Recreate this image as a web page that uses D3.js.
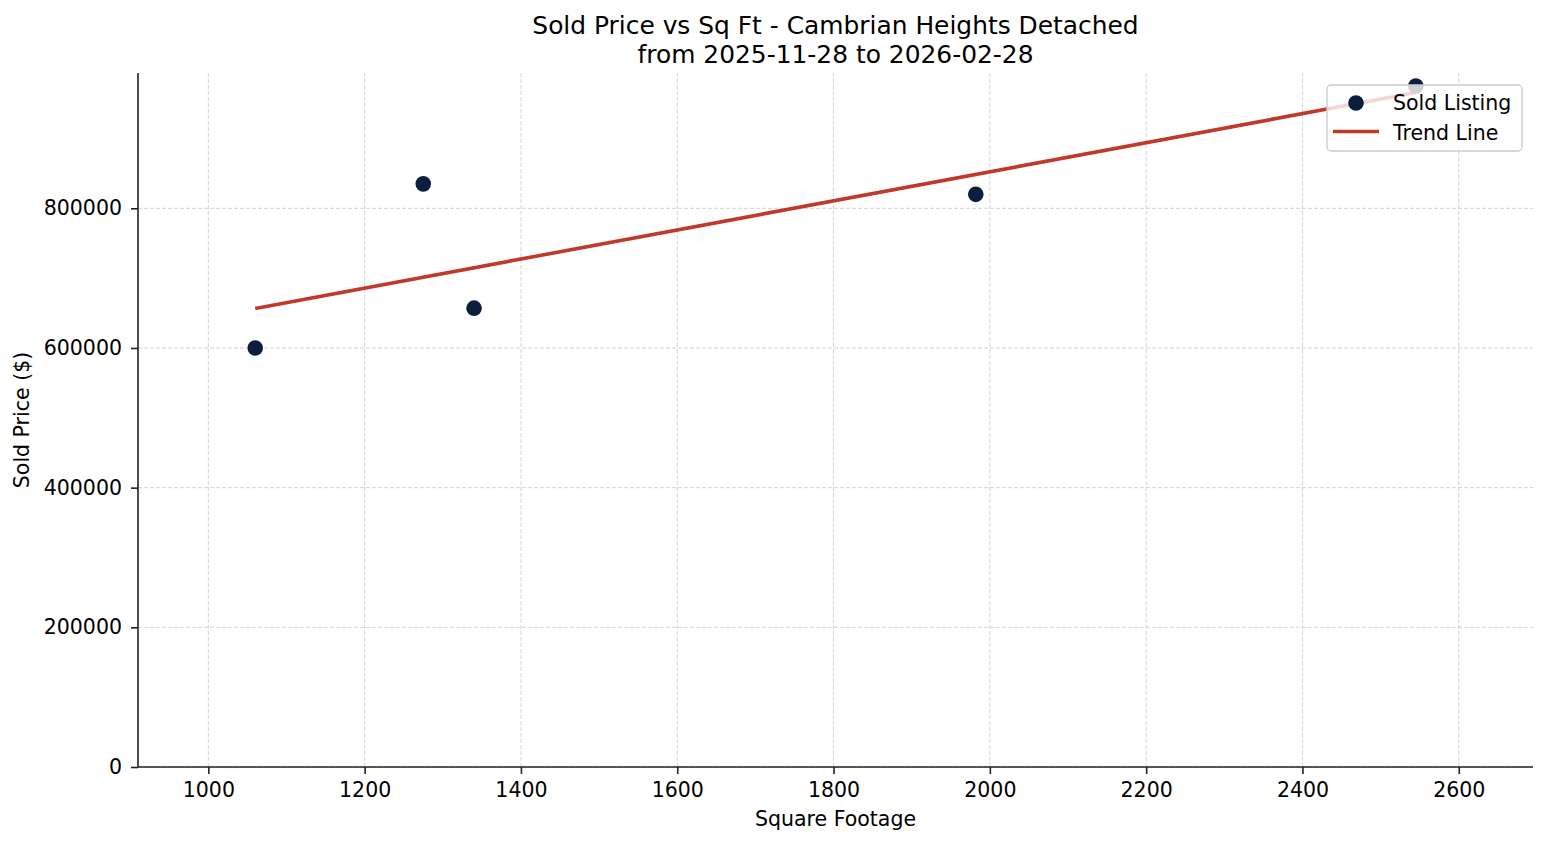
<!DOCTYPE html>
<html>
<head>
<meta charset="utf-8">
<script src="https://cdn.jsdelivr.net/npm/d3@7"></script>
<style>
  body { margin: 0; background: #fff; }
  text { font-family: "DejaVu Sans", sans-serif; fill: #000; }
</style>
</head>
<body>
<script>
// sold listings
var sqft = [1060, 1275, 1340, 1982, 2545];
var price = [600000, 835000, 657000, 820000, 975000];

var xTicks = [1000, 1200, 1400, 1600, 1800, 2000, 2200, 2400, 2600];
var yTicks = [0, 200000, 400000, 600000, 800000];

var titleLines = ["Sold Price vs Sq Ft - Cambrian Heights Detached", "from 2025-11-28 to 2026-02-28"];
var legendLabels = ["Sold Listing", "Trend Line"];

var width = 1547;
var height = 845;
// plot box (note: "top" is taken by window.top)
var padL = 138, padR = 1533, padT = 73, padB = 767;
var fontSize = 20.5;

var data = sqft.map(function(d, i){
  return {sqft: d, price: price[i]};
});

// least squares fit for the trend line
var mx = d3.mean(sqft), my = d3.mean(price);
var sxy = d3.sum(data, function(d){ return (d.sqft - mx) * (d.price - my); });
var sxx = d3.sum(data, function(d){ return (d.sqft - mx) * (d.sqft - mx); });
var slope = sxy / sxx;
var intercept = my - slope * mx;
var xMin = d3.min(sqft), xMax = d3.max(sqft);
var trend = [xMin, xMax].map(function(x){ return {sqft: x, price: intercept + slope * x}; });

var yMin = d3.min(price), yMax = d3.max(price);

var xScale = d3.scaleLinear()
               .domain([xMin - 150, xMax + 150])
               .range([padL, padR]);

var yScale = d3.scaleLinear()
               .domain([0, yMax + 0.05 * (yMax - yMin)])
               .range([padB, padT]);

var svg = d3.select("body")
            .append("svg")
            .attr("width", width)
            .attr("height", height);

// grid
svg.append("g")
   .selectAll("line")
   .data(xTicks)
   .enter()
   .append("line")
   .attr("x1", function(d){ return xScale(d); })
   .attr("x2", function(d){ return xScale(d); })
   .attr("y1", padT)
   .attr("y2", padB)
   .attr("stroke", "#b0b0b0")
   .attr("stroke-opacity", 0.7)
   .attr("stroke-width", 0.8)
   .attr("stroke-dasharray", "4,2");

svg.append("g")
   .selectAll("line")
   .data(yTicks)
   .enter()
   .append("line")
   .attr("x1", padL)
   .attr("x2", padR)
   .attr("y1", function(d){ return yScale(d); })
   .attr("y2", function(d){ return yScale(d); })
   .attr("stroke", "#b0b0b0")
   .attr("stroke-opacity", 0.7)
   .attr("stroke-width", 0.8)
   .attr("stroke-dasharray", "4,2");

// axes
var xAxis = d3.axisBottom(xScale)
              .tickValues(xTicks)
              .tickSize(7)
              .tickPadding(8)
              .tickFormat(d3.format("d"));

var yAxis = d3.axisLeft(yScale)
              .tickValues(yTicks)
              .tickSize(7)
              .tickPadding(9)
              .tickFormat(d3.format("d"));

var gx = svg.append("g")
   .attr("transform", "translate(0," + padB + ")")
   .call(xAxis);

var gy = svg.append("g")
   .attr("transform", "translate(" + padL + ",0)")
   .call(yAxis);

[gx, gy].forEach(function(g){
  g.select(".domain").attr("stroke", "#222").attr("stroke-width", 1.6);
  g.selectAll(".tick line").attr("stroke", "#222").attr("stroke-width", 1.6);
  g.selectAll(".tick text").attr("font-size", fontSize).attr("font-family", "DejaVu Sans").attr("fill", "#000");
});
gx.select(".domain").attr("d", "M" + padL + ",0H" + padR);
gy.select(".domain").attr("d", "M0," + padB + "V" + padT);

// trend line
var line = d3.line()
             .x(function(d){ return xScale(d.sqft); })
             .y(function(d){ return yScale(d.price); });

svg.append("path")
   .datum(trend)
   .attr("d", line)
   .attr("fill", "none")
   .attr("stroke", "#c0392b")
   .attr("stroke-width", 3.6);

// points
svg.selectAll("circle.pt")
   .data(data)
   .enter()
   .append("circle")
   .attr("class", "pt")
   .attr("cx", function(d){ return xScale(d.sqft); })
   .attr("cy", function(d){ return yScale(d.price); })
   .attr("r", 7.8)
   .attr("fill", "#0a1f3d");

// title
svg.selectAll("text.title")
   .data(titleLines)
   .enter()
   .append("text")
   .attr("class", "title")
   .attr("x", (padL + padR) / 2)
   .attr("y", function(d, i){ return 34 + i * 28.5; })
   .attr("text-anchor", "middle")
   .attr("font-size", 24.9)
   .text(function(d){ return d; });

// axis labels
svg.append("text")
   .attr("x", (padL + padR) / 2)
   .attr("y", 826)
   .attr("text-anchor", "middle")
   .attr("font-size", fontSize)
   .text("Square Footage");

svg.append("text")
   .attr("transform", "translate(29," + (padT + padB) / 2 + ") rotate(-90)")
   .attr("text-anchor", "middle")
   .attr("font-size", fontSize)
   .text("Sold Price ($)");

// legend
var lg = svg.append("g").attr("transform", "translate(1327,85)");
lg.append("rect")
  .attr("width", 195)
  .attr("height", 66)
  .attr("rx", 4)
  .attr("fill", "#fff")
  .attr("fill-opacity", 0.8)
  .attr("stroke", "#cccccc")
  .attr("stroke-width", 1.4);

lg.append("circle")
  .attr("cx", 29)
  .attr("cy", 18)
  .attr("r", 7.8)
  .attr("fill", "#0a1f3d");

lg.append("line")
  .attr("x1", 6)
  .attr("x2", 52)
  .attr("y1", 46.5)
  .attr("y2", 46.5)
  .attr("stroke", "#c0392b")
  .attr("stroke-width", 3.6);

lg.selectAll("text")
  .data(legendLabels)
  .enter()
  .append("text")
  .attr("x", 66)
  .attr("y", function(d, i){ return 25 + i * 29.5; })
  .attr("font-size", fontSize)
  .text(function(d){ return d; });
</script>
</body>
</html>
